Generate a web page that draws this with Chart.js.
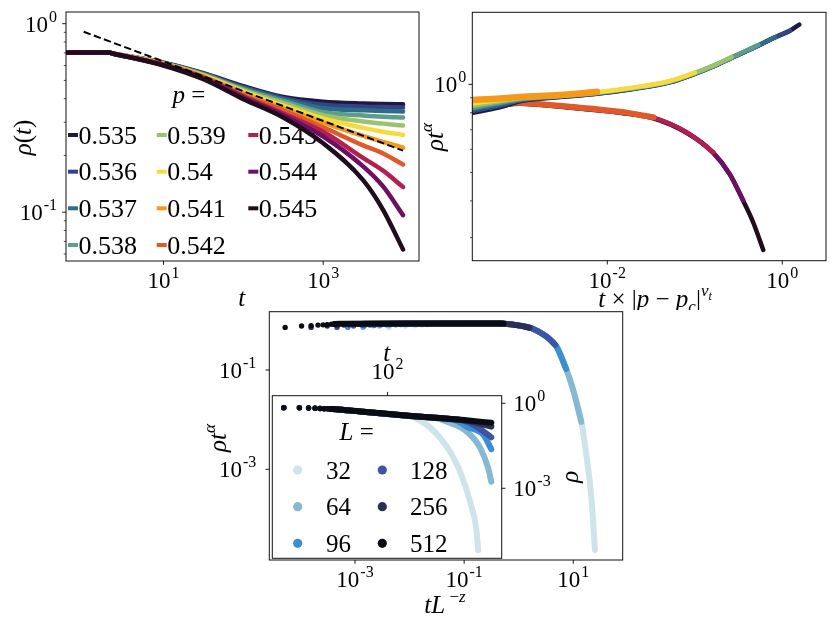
<!DOCTYPE html>
<html>
<head>
<meta charset="utf-8">
<script src="https://cdn.jsdelivr.net/npm/chart.js@4.4.0/dist/chart.umd.min.js"></script>
<style>
  html, body { margin: 0; padding: 0; background: #fff; }
  #fig { position: relative; width: 830px; height: 623px; overflow: hidden; }
  canvas { position: absolute; }
</style>
</head>
<body>
<div id="fig">
  <canvas id="cA" width="430" height="310" style="left:0;top:0;width:430px;height:310px"></canvas>
  <canvas id="cB" width="410" height="310" style="left:420px;top:0;width:410px;height:310px"></canvas>
  <canvas id="cC" width="440" height="323" style="left:200px;top:300px;width:440px;height:323px"></canvas>
  <canvas id="cI" width="330" height="240" style="left:260px;top:330px;width:330px;height:240px"></canvas>
</div>
<script>
// ---- panel a: rho(t) for several p ----
const pLabels = ['0.535', '0.536', '0.537', '0.538', '0.539', '0.54', '0.541', '0.542', '0.543', '0.544', '0.545'];
const pColors = ['#1c1a3e', '#34428c', '#2e6d87', '#5c9d8c', '#9cc36c', '#f6db3c', '#f59a18', '#e0592a', '#b3204f', '#6d1063', '#1f0c1d'];

const tA = [0.6, 2, 2.5, 10, 31.6, 100, 316, 1000, 3162, 5623, 10000];
const rho535 = [0.703, 0.703, 0.690, 0.621, 0.546, 0.466, 0.408, 0.385, 0.377, 0.375, 0.374];
const rho536 = [0.703, 0.703, 0.690, 0.619, 0.543, 0.460, 0.403, 0.371, 0.363, 0.361, 0.359];
const rho537 = [0.703, 0.703, 0.690, 0.618, 0.541, 0.455, 0.397, 0.356, 0.347, 0.344, 0.342];
const rho538 = [0.703, 0.703, 0.690, 0.617, 0.537, 0.450, 0.389, 0.339, 0.326, 0.321, 0.318];
const rho539 = [0.703, 0.703, 0.690, 0.615, 0.533, 0.443, 0.379, 0.327, 0.303, 0.295, 0.288];
const rho540 = [0.703, 0.703, 0.690, 0.614, 0.530, 0.437, 0.367, 0.314, 0.280, 0.267, 0.257];
const rho541 = [0.703, 0.703, 0.690, 0.611, 0.526, 0.427, 0.355, 0.299, 0.254, 0.236, 0.220];
const rho542 = [0.703, 0.703, 0.689, 0.608, 0.521, 0.417, 0.347, 0.282, 0.226, 0.205, 0.179];
const rho543 = [0.703, 0.703, 0.689, 0.605, 0.516, 0.412, 0.334, 0.267, 0.194, 0.166, 0.136];
const rho544 = [0.703, 0.703, 0.689, 0.603, 0.512, 0.406, 0.327, 0.252, 0.175, 0.137, 0.0964];
const rho545 = [0.703, 0.703, 0.689, 0.600, 0.507, 0.398, 0.318, 0.232, 0.148, 0.103, 0.0634];
const tFit = [1, 10000];
const rhoFit = [0.906, 0.212];

// ---- panel b: rho t^alpha vs t|p-pc|^nu ----
const bxUp = [2.8e-4, 5.9e-4, 1.0e-3, 2.88e-3, 7.62e-3, 1.82e-2, 5.17e-2, 0.1003, 0.170, 0.264, 0.375, 0.532, 0.826, 1.225, 1.563];
const by535 = [0.798, 0.835, 0.875, 0.905, 0.929, 0.961, 1.016, 1.086, 1.157, 1.230, 1.291, 1.355, 1.446, 1.524, 1.600];
const by536 = [0.810, 0.845, 0.880, 0.907, 0.931, 0.963, 1.018, 1.088, 1.159, 1.232, 1.293, 1.357, 1.448, 1.526];
const by537 = [0.820, 0.855, 0.885, 0.910, 0.933, 0.965, 1.020, 1.090, 1.161, 1.234, 1.295, 1.359, 1.450];
const by538 = [0.830, 0.865, 0.890, 0.912, 0.935, 0.967, 1.022, 1.092, 1.163, 1.236, 1.297, 1.362];
const by539 = [0.845, 0.875, 0.895, 0.914, 0.937, 0.969, 1.024, 1.094, 1.165, 1.239];
const by540 = [0.860, 0.884, 0.900, 0.917, 0.940, 0.972, 1.027, 1.097];
const by541 = [0.884, 0.894, 0.905, 0.920, 0.943];
const bxLow = [2.8e-4, 5.9e-4, 1.0e-3, 3.75e-3, 1.40e-2, 3.36e-2, 8.07e-2, 0.1626, 0.252, 0.358, 0.467, 0.607];
const by542 = [0.863, 0.867, 0.865, 0.838, 0.806, 0.772];
const by543 = [0.843, 0.858, 0.862, 0.836, 0.804, 0.770, 0.687, 0.587];
const by544 = [0.830, 0.850, 0.860, 0.834, 0.802, 0.768, 0.685, 0.585, 0.494, 0.402];
const by545 = [0.817, 0.843, 0.858, 0.832, 0.800, 0.766, 0.683, 0.583, 0.492, 0.400, 0.337, 0.272];

// ---- panel c: collapse rho t^alpha vs t L^-z, inset rho(t) ----
const sizes = ['32', '64', '96', '128', '256', '512'];
const sizeColors = ['#cfe4ea', '#86b8d1', '#3b8ed2', '#3b54a6', '#2b2e55', '#0b0b14'];
const mx32 = [4.19e-3, 8.4e-3, 1.26e-2, 1.68e-2, 2.1e-2, 2.5e-2, 2.9e-2, 3.35e-2, 4.19e-2, 0.419, 0.914, 1.72, 3.24, 4.94, 7.53, 9.95, 14.2, 17.5, 21.6, 24.9];
const my32 = [0.72, 0.77, 0.78, 0.80, 0.81, 0.82, 0.83, 0.84, 0.85, 0.86, 0.80, 0.69, 0.468, 0.294, 0.10, 0.0396, 0.00847, 0.0018, 2.42e-4, 2.39e-5];
const mx64 = [1.4e-3, 2.8e-3, 4.2e-3, 5.6e-3, 7.0e-3, 8.4e-3, 9.8e-3, 1.12e-2, 1.4e-2, 0.14, 0.453, 0.914, 1.72, 3.24, 4.94, 7.53, 9.95, 14.0];
const my64 = [0.72, 0.77, 0.78, 0.80, 0.81, 0.82, 0.83, 0.84, 0.85, 0.86, 0.86, 0.80, 0.69, 0.468, 0.294, 0.10, 0.0396, 0.009];
const mx96 = [7.4e-4, 1.48e-3, 2.2e-3, 2.96e-3, 3.7e-3, 4.4e-3, 5.2e-3, 5.9e-3, 7.4e-3, 7.4e-2, 0.453, 0.914, 1.72, 3.24, 4.94, 7.38];
const my96 = [0.72, 0.77, 0.78, 0.80, 0.81, 0.82, 0.83, 0.84, 0.85, 0.86, 0.86, 0.80, 0.69, 0.468, 0.294, 0.105];
const mx128 = [4.68e-4, 9.4e-4, 1.4e-3, 1.87e-3, 2.34e-3, 2.8e-3, 3.3e-3, 3.7e-3, 4.68e-3, 4.68e-2, 0.453, 0.914, 1.72, 3.24, 4.68];
const my128 = [0.72, 0.77, 0.78, 0.80, 0.81, 0.82, 0.83, 0.84, 0.85, 0.86, 0.86, 0.80, 0.69, 0.468, 0.32];
const mx256 = [1.57e-4, 3.1e-4, 4.7e-4, 6.3e-4, 7.9e-4, 9.4e-4, 1.1e-3, 1.26e-3, 1.57e-3, 1.57e-2, 0.157, 0.453, 0.914, 1.57];
const my256 = [0.72, 0.77, 0.78, 0.80, 0.81, 0.82, 0.83, 0.84, 0.85, 0.86, 0.865, 0.86, 0.80, 0.71];
const mx512 = [5.25e-5, 1.05e-4, 1.57e-4, 2.1e-4, 2.6e-4, 3.1e-4, 3.7e-4, 4.2e-4, 5.25e-4, 5.25e-3, 5.25e-2, 0.525];
const my512 = [0.72, 0.77, 0.78, 0.80, 0.81, 0.82, 0.83, 0.84, 0.85, 0.86, 0.865, 0.86];

const it32 = [1, 2, 3, 4, 5, 6, 7, 8, 10, 30, 100, 300, 450, 630, 1050, 1600, 2500, 3900, 5100, 5600];
const ir32 = [0.70, 0.70, 0.68, 0.665, 0.655, 0.645, 0.64, 0.632, 0.62, 0.51, 0.42, 0.33, 0.23, 0.15, 0.058, 0.0195, 0.0039, 0.00034, 0.000039, 0.0000065];
const it64 = [1, 2, 3, 4, 5, 6, 7, 8, 10, 30, 100, 300, 1000, 1410, 3390, 6170, 8710, 10000];
const ir64 = [0.70, 0.70, 0.68, 0.665, 0.655, 0.645, 0.64, 0.632, 0.62, 0.51, 0.42, 0.35, 0.28, 0.224, 0.10, 0.0257, 0.0051, 0.0017];
const it96 = [1, 2, 3, 4, 5, 6, 7, 8, 10, 30, 100, 300, 1000, 2000, 3390, 7080, 10000];
const ir96 = [0.70, 0.70, 0.68, 0.665, 0.655, 0.645, 0.64, 0.632, 0.62, 0.51, 0.42, 0.35, 0.30, 0.255, 0.148, 0.076, 0.024];
const it128 = [1, 2, 3, 4, 5, 6, 7, 8, 10, 30, 100, 300, 1000, 3000, 5250, 10000];
const ir128 = [0.70, 0.70, 0.68, 0.665, 0.655, 0.645, 0.64, 0.632, 0.62, 0.51, 0.42, 0.35, 0.30, 0.24, 0.148, 0.063];
const it256 = [1, 2, 3, 4, 5, 6, 7, 8, 10, 30, 100, 300, 1000, 3000, 10000];
const ir256 = [0.70, 0.70, 0.68, 0.665, 0.655, 0.645, 0.64, 0.632, 0.62, 0.51, 0.42, 0.355, 0.30, 0.25, 0.15];
const it512 = [1, 2, 3, 4, 5, 6, 7, 8, 10, 30, 100, 300, 1000, 3000, 10000];
const ir512 = [0.70, 0.70, 0.68, 0.665, 0.655, 0.645, 0.64, 0.632, 0.62, 0.515, 0.425, 0.355, 0.30, 0.255, 0.205];

// tick decades (exponents) and minor ticks
const ticksAx = [1, 3], ticksAy = [0, -1];
const minorAy = [0.2, 0.3, 0.4, 0.5, 0.6, 0.7, 0.8, 0.9, 0.06, 0.07, 0.08, 0.09];
const ticksBx = [-2, 0], ticksBy = [0];
const minorBy = [0.3, 0.4, 0.5, 0.6, 0.7, 0.8, 0.9];
const ticksCx = [-3, -1, 1], ticksCy = [-1, -3];
const ticksIx = [2], ticksIy = [0, -3];

const SERIF = '"Liberation Serif", "DejaVu Serif", serif';
const TXT = 25;

function pts(xs, ys) {
  return ys.map((y, i) => ({ x: xs[i], y }));
}

function font(it, size) {
  return (it ? 'italic ' : '') + size + 'px ' + SERIF;
}

// parts: [text, italic, size, dy]
function rich(ctx, parts, x, y, rot) {
  ctx.save();
  ctx.translate(x, y);
  if (rot) ctx.rotate(-Math.PI / 2);
  ctx.fillStyle = '#000';
  ctx.textAlign = 'left';
  ctx.textBaseline = 'alphabetic';
  let w = 0;
  const ws = parts.map(p => {
    ctx.font = font(p[1], p[2]);
    const m = ctx.measureText(p[0]).width;
    w += m;
    return m;
  });
  let cx = -w / 2;
  parts.forEach((p, i) => {
    ctx.font = font(p[1], p[2]);
    ctx.fillText(p[0], cx, p[3] || 0);
    cx += ws[i];
  });
  ctx.restore();
}

function powLabel(ctx, e, x, y, align) {
  const sup = String(e);
  ctx.font = font(false, 23);
  const wb = ctx.measureText('10').width;
  ctx.font = font(false, 16);
  const wsup = ctx.measureText(sup).width;
  const w = wb + wsup + 1;
  const x0 = align === 'right' ? x - w : align === 'left' ? x : x - w / 2;
  ctx.fillStyle = '#000';
  ctx.textAlign = 'left';
  ctx.textBaseline = 'alphabetic';
  ctx.font = font(false, 23);
  ctx.fillText('10', x0, y);
  ctx.font = font(false, 16);
  ctx.fillText(sup, x0 + wb + 1, y - 10);
}

function drawAxis(ctx, chart, ax) {
  const a = chart.chartArea;
  const horiz = ax.side === 'bottom' || ax.side === 'top';
  const s = chart.scales[horiz ? 'x' : 'y'];
  ctx.strokeStyle = '#000';
  const tick = (v, len, w) => {
    const p = s.getPixelForValue(v);
    ctx.lineWidth = w;
    ctx.beginPath();
    if (ax.side === 'bottom') { ctx.moveTo(p, a.bottom); ctx.lineTo(p, a.bottom + len); }
    if (ax.side === 'top') { ctx.moveTo(p, a.top); ctx.lineTo(p, a.top - len); }
    if (ax.side === 'left') { ctx.moveTo(a.left, p); ctx.lineTo(a.left - len, p); }
    if (ax.side === 'right') { ctx.moveTo(a.right, p); ctx.lineTo(a.right + len, p); }
    ctx.stroke();
  };
  (ax.minor || []).forEach(v => tick(v, 2.2, 0.7));
  ax.major.forEach(e => {
    const v = Math.pow(10, e);
    tick(v, 3.8, 0.9);
    const p = s.getPixelForValue(v);
    if (ax.side === 'bottom') powLabel(ctx, e, p, a.bottom + ax.gap, 'center');
    if (ax.side === 'top') powLabel(ctx, e, p, a.top - ax.gap, 'center');
    if (ax.side === 'left') powLabel(ctx, e, a.left - ax.gap, p + 8, 'right');
    if (ax.side === 'right') powLabel(ctx, e, a.right + ax.gap, p + 8, 'left');
  });
}

function makeDeco(spec) {
  return {
    id: 'deco',
    beforeDatasetsDraw(chart) {
      const ctx = chart.ctx, a = chart.chartArea;
      ctx.save();
      ctx.fillStyle = '#fff';
      ctx.fillRect(a.left, a.top, a.right - a.left, a.bottom - a.top);
      if (spec.legend) spec.legend(ctx, spec.ox, spec.oy);
      ctx.restore();
    },
    afterDatasetsDraw(chart) {
      const ctx = chart.ctx, a = chart.chartArea;
      ctx.save();
      ctx.strokeStyle = '#111';
      ctx.lineWidth = 1;
      ctx.strokeRect(a.left, a.top, a.right - a.left, a.bottom - a.top);
      spec.axes.forEach(ax => drawAxis(ctx, chart, ax));
      spec.titles.forEach(t => rich(ctx, t.parts, t.x - spec.ox, t.y - spec.oy, t.rot));
      ctx.restore();
    }
  };
}

function logAxis(lo, hi) {
  return {
    type: 'logarithmic',
    min: Math.pow(10, lo),
    max: Math.pow(10, hi),
    ticks: { display: false },
    grid: { display: false },
    border: { display: false },
    afterFit(s) { if (s.isHorizontal()) s.height = 0; else s.width = 0; }
  };
}

function baseOptions(pad, xr, yr) {
  return {
    responsive: false,
    maintainAspectRatio: false,
    animation: false,
    events: [],
    layout: { padding: pad },
    plugins: { legend: { display: false }, tooltip: { enabled: false } },
    scales: { x: logAxis(xr[0], xr[1]), y: logAxis(yr[0], yr[1]) }
  };
}

function legendA(ctx, ox, oy) {
  rich(ctx, [['p', true, TXT], [' =', false, TXT]], 189 - ox, 103 - oy);
  const cols = [68, 156.7, 248.3], rows = [135, 171.7, 208.3, 245];
  pLabels.forEach((lab, i) => {
    const hx = cols[Math.floor(i / 4)] - ox, yc = rows[i % 4] - oy;
    ctx.strokeStyle = pColors[i];
    ctx.lineWidth = 4;
    ctx.beginPath();
    ctx.moveTo(hx, yc);
    ctx.lineTo(hx + 10, yc);
    ctx.stroke();
    ctx.fillStyle = '#000';
    ctx.font = font(false, 26);
    ctx.textAlign = 'left';
    ctx.textBaseline = 'alphabetic';
    ctx.fillText(lab, hx + 10.5, yc + 8.5);
  });
}

function legendC(ctx, ox, oy) {
  rich(ctx, [['L', true, TXT], [' =', false, TXT]], 356.7 - ox, 440 - oy);
  const mcols = [297.7, 382.3], tcols = [326, 410], rows = [470, 506.7, 543.3];
  sizes.forEach((lab, i) => {
    const c = Math.floor(i / 3), y = rows[i % 3] - oy;
    ctx.fillStyle = sizeColors[i];
    ctx.beginPath();
    ctx.arc(mcols[c] - ox, y, 4.6, 0, Math.PI * 2);
    ctx.fill();
    ctx.fillStyle = '#000';
    ctx.font = font(false, TXT);
    ctx.textAlign = 'left';
    ctx.textBaseline = 'alphabetic';
    ctx.fillText(lab, tcols[c] - ox, y + 8.5);
  });
}

// ---------- panel a ----------
const rhoA = [rho535, rho536, rho537, rho538, rho539, rho540, rho541, rho542, rho543, rho544, rho545];
const dsA = rhoA.map((r, i) => ({
  data: pts(tA, r),
  borderColor: pColors[i],
  borderWidth: 4.5,
  borderCapStyle: 'round',
  pointRadius: 0,
  cubicInterpolationMode: 'monotone',
  order: 20 - i
}));
dsA.push({
  data: pts(tFit, rhoFit),
  borderColor: '#000',
  borderWidth: 2,
  borderDash: [7.4, 3.4],
  pointRadius: 0,
  order: 0
});
new Chart(document.getElementById('cA'), {
  type: 'line',
  data: { datasets: dsA },
  options: baseOptions({ left: 66, right: 11, top: 12, bottom: 49 }, [-0.2, 4.2], [-1.259, 0.062]),
  plugins: [makeDeco({
    ox: 0, oy: 0, legend: legendA,
    axes: [
      { side: 'bottom', major: ticksAx, gap: 27 },
      { side: 'left', major: ticksAy, minor: minorAy, gap: 9 }
    ],
    titles: [
      { parts: [['ρ', true, TXT], ['(', false, TXT], ['t', true, TXT], [')', false, TXT]], x: 31, y: 137.5, rot: true },
      { parts: [['t', true, TXT]], x: 241.7, y: 306 }
    ]
  })]
});

// ---------- panel b ----------
// draw sequence: lower branch first, upper branch on top
const seqB = [
  [bxLow, by545, 10, 4.5], [bxLow, by544, 9, 4.5], [bxLow, by543, 8, 4.5], [bxLow, by542, 7, 6],
  [bxUp, by535, 0, 4.5], [bxUp, by536, 1, 4.5], [bxUp, by537, 2, 4.5], [bxUp, by538, 3, 4.5],
  [bxUp, by539, 4, 4.5], [bxUp, by540, 5, 4.5], [bxUp, by541, 6, 6.5]
];
const dsB = seqB.map((s, k) => ({
  data: pts(s[0], s[1]),
  borderColor: pColors[s[2]],
  borderWidth: s[3],
  borderCapStyle: 'round',
  pointRadius: 0,
  cubicInterpolationMode: 'monotone',
  order: 50 - k
}));
new Chart(document.getElementById('cB'), {
  type: 'line',
  data: { datasets: dsB },
  options: baseOptions({ left: 52.3, right: 4, top: 12.3, bottom: 49.3 }, [-3.543, 0.5], [-0.602, 0.246]),
  plugins: [makeDeco({
    ox: 420, oy: 0,
    axes: [
      { side: 'bottom', major: ticksBx, gap: 27 },
      { side: 'left', major: ticksBy, minor: minorBy, gap: 6 }
    ],
    titles: [
      { parts: [['ρ', true, TXT], ['t', true, TXT], ['α', true, 17, -11]], x: 443, y: 137, rot: true },
      { parts: [['t', true, TXT], [' × ', false, TXT], ['|', false, TXT], ['p', true, TXT], [' − ', false, TXT],
                ['p', true, TXT], ['c', true, 17, 5], ['|', false, TXT], ['ν', true, 17, -11], ['t', true, 12, -7]],
        x: 655, y: 307 }
    ]
  })]
});

// ---------- panel c (main) ----------
function bandSets(list) {
  return list.map((s, k) => ({
    data: pts(s[0], s[1]),
    borderColor: sizeColors[k],
    backgroundColor: sizeColors[k],
    pointBackgroundColor: sizeColors[k],
    pointBorderWidth: 0,
    borderWidth: 6,
    borderCapStyle: 'round',
    borderJoinStyle: 'round',
    cubicInterpolationMode: 'monotone',
    pointRadius: c => (c.dataIndex < 8 ? 2.7 : 0),
    segment: { borderColor: c => (c.p0DataIndex < 7 ? 'rgba(0,0,0,0)' : undefined) },
    order: 10 - k
  }));
}
new Chart(document.getElementById('cC'), {
  type: 'line',
  data: { datasets: bandSets([[mx32, my32], [mx64, my64], [mx96, my96], [mx128, my128], [mx256, my256], [mx512, my512]]) },
  options: baseOptions({ left: 69.3, right: 17.3, top: 11.7, bottom: 63 }, [-4.57, 1.905], [-4.825, 0.173]),
  plugins: [makeDeco({
    ox: 200, oy: 300,
    axes: [
      { side: 'bottom', major: ticksCx, gap: 26.7 },
      { side: 'left', major: ticksCy, gap: 13 }
    ],
    titles: [
      { parts: [['ρ', true, TXT], ['t', true, TXT], ['α', true, 17, -11]], x: 226, y: 438, rot: true },
      { parts: [['t', true, TXT], ['L', true, TXT], [' −', false, 17, -11], ['z', true, 17, -11]], x: 445, y: 613 }
    ]
  })]
});

// ---------- inset ----------
new Chart(document.getElementById('cI'), {
  type: 'line',
  data: { datasets: bandSets([[it32, ir32], [it64, ir64], [it96, ir96], [it128, ir128], [it256, ir256], [it512, ir512]]) },
  options: baseOptions({ left: 12.3, right: 88.3, top: 65.7, bottom: 11.7 }, [-0.2, 4.2], [-5.471, 0.268]),
  plugins: [makeDeco({
    ox: 260, oy: 330, legend: legendC,
    axes: [
      { side: 'top', major: ticksIx, gap: 16.4 },
      { side: 'right', major: ticksIy, gap: 11.6 }
    ],
    titles: [
      { parts: [['t', true, TXT]], x: 386.7, y: 361 },
      { parts: [['ρ', true, TXT]], x: 578, y: 476.7, rot: true }
    ]
  })]
});
</script>
</body>
</html>
